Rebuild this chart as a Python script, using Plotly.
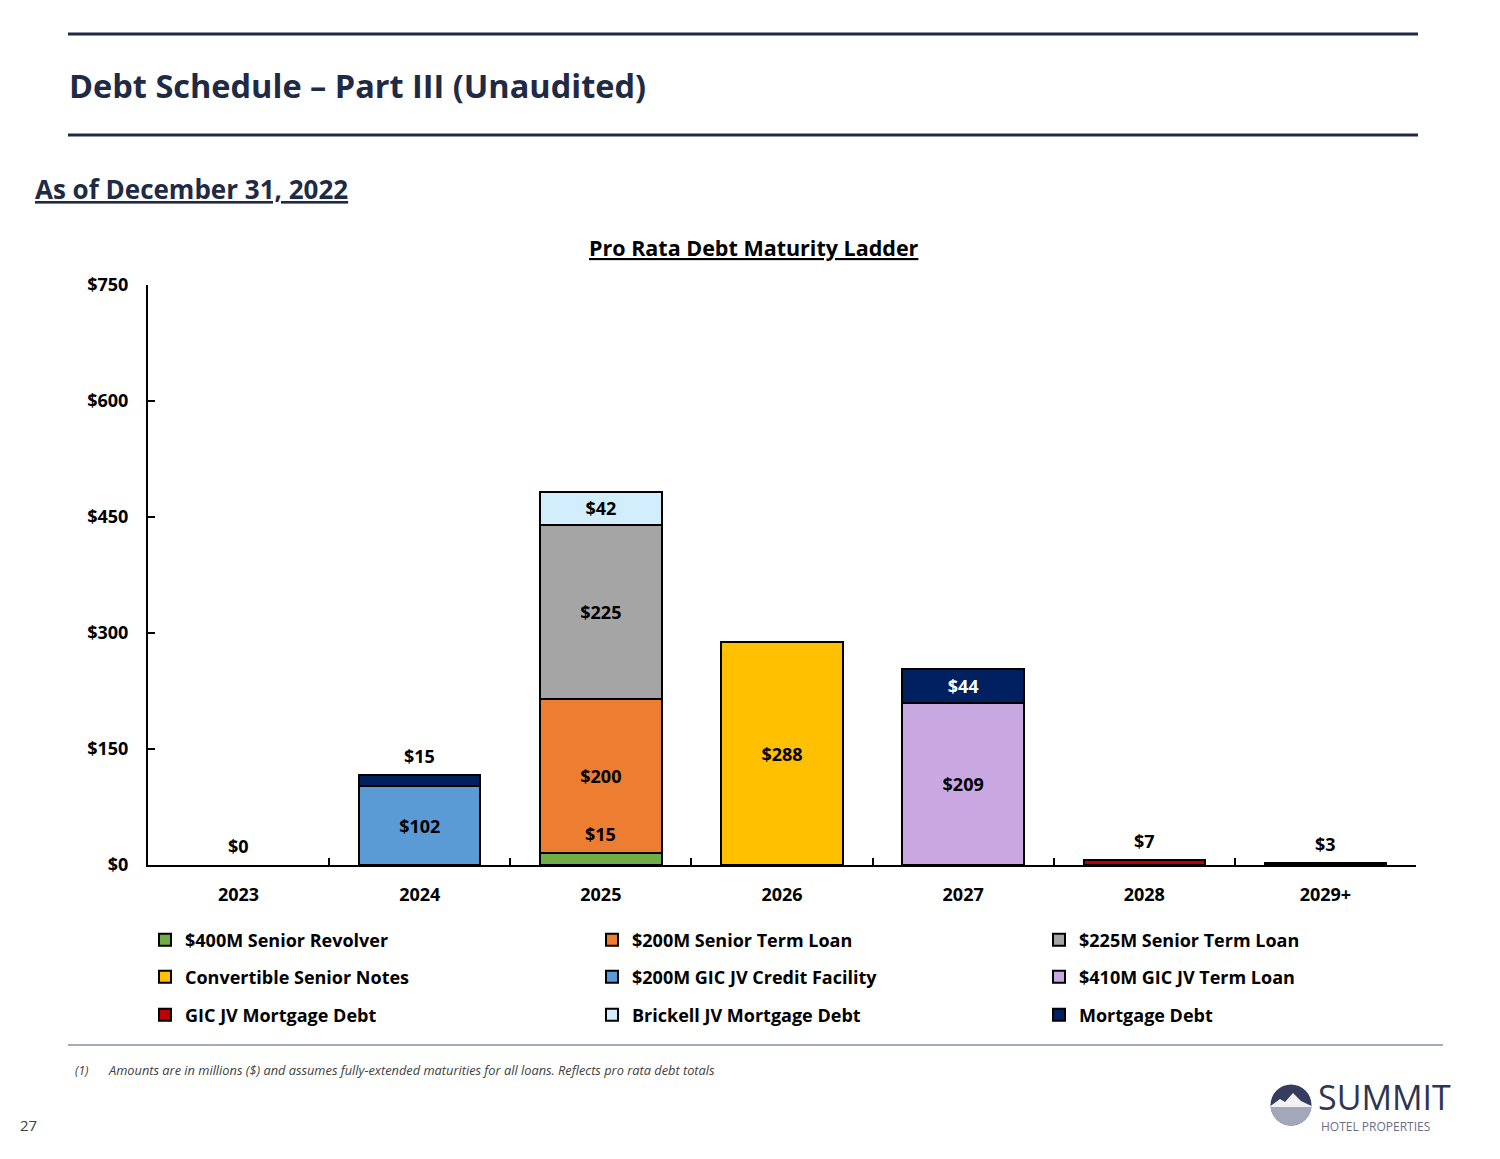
import numpy as np
import plotly.graph_objects as go

W, H = 1500, 1159
FONT = "Open Sans"

# ---------------- data ----------------
categories = ["2023", "2024", "2025", "2026", "2027", "2028", "2029+"]

series_names = [
    "$400M Senior Revolver", "$200M Senior Term Loan", "$225M Senior Term Loan",
    "Convertible Senior Notes", "$200M GIC JV Credit Facility", "$410M GIC JV Term Loan",
    "GIC JV Mortgage Debt", "Brickell JV Mortgage Debt", "Mortgage Debt",
]
revolver_400m      = [None, None, 15,   None, None, None, None]
term_loan_200m     = [None, None, 200,  None, None, None, None]
term_loan_225m     = [None, None, 225,  None, None, None, None]
convertible_notes  = [None, None, None, 288,  None, None, None]
gic_credit_200m    = [None, 102,  None, None, None, None, None]
gic_term_410m      = [None, None, None, None, 209,  None, None]
gic_mortgage       = [None, None, None, None, None, 7,    None]
brickell_mortgage  = [None, None, 42,   None, None, None, None]
mortgage_debt      = [None, 15,   None, None, 44,   None, 3]

series_values = [revolver_400m, term_loan_200m, term_loan_225m, convertible_notes,
                 gic_credit_200m, gic_term_410m, gic_mortgage, brickell_mortgage, mortgage_debt]
series_colors = ["#70AD47", "#ED7D31", "#A5A5A5", "#FFC000", "#5B9BD5",
                 "#C9A8E2", "#C00000", "#D2EDFC", "#002060"]
label_colors = ["black"] * 8 + ["white"]

y_ticks = [0, 150, 300, 450, 600, 750]
y_tick_labels = ["$0", "$150", "$300", "$450", "$600", "$750"]

# legend grid (3 columns x 3 rows), pixel positions of each entry's text start / row centre
legend_cols_px = [183, 630, 1077]
legend_rows_px = [940, 977, 1015]

# ---------------- helpers ----------------
def px(x):
    return x / W

def py(y):
    return 1 - y / H

fig = go.Figure()

legend_layouts = {}
bases = [0.0] * len(categories)
small_labels = []
for k, (name, vals, col, lcol) in enumerate(zip(series_names, series_values,
                                                series_colors, label_colors)):
    texts, positions = [], []
    for i, v in enumerate(vals):
        if v is None:
            texts.append("")
            positions.append("none")
            continue
        if v >= 20:
            texts.append(f"${v:,.0f}")
            positions.append("inside")
        else:
            texts.append("")
            positions.append("none")
            small_labels.append((i, bases[i] + v, f"${v:,.0f}"))
        bases[i] += v
    leg_id = "legend" if k == 0 else f"legend{k + 1}"
    row, colm = divmod(k, 3)
    legend_layouts[leg_id] = dict(
        x=px(legend_cols_px[colm] - 38), y=py(legend_rows_px[row]),
        xanchor="left", yanchor="middle", orientation="v",
        font=dict(family=FONT, size=18, color="black", weight="bold"),
        bgcolor="rgba(0,0,0,0)", borderwidth=0, itemclick=False, itemdoubleclick=False,
    )
    fig.add_trace(go.Bar(
        x=categories, y=vals, name=name, legend=leg_id,
        marker=dict(color=col, line=dict(color="black", width=2)),
        text=texts, textposition=positions, insidetextanchor="middle",
        textangle=0, constraintext="none",
        textfont=dict(family=FONT, size=18, color=lcol, weight="bold"),
        hoverinfo="skip",
    ))

# $0 label for empty years
for i, c in enumerate(categories):
    if bases[i] == 0:
        small_labels.append((i, 0, "$0"))

annotations = []
for i, yv, t in small_labels:
    annotations.append(dict(x=i, y=yv, xref="x", yref="y", text=t, showarrow=False,
                            yanchor="middle", yshift=19,
                            font=dict(family=FONT, size=18, color="black", weight="bold")))

# page texts
annotations += [
    dict(x=px(67), y=py(85), xref="paper", yref="paper", xanchor="left", yanchor="middle",
         text="Debt Schedule – Part III (Unaudited)", showarrow=False,
         font=dict(family=FONT, size=32.5, color="#1F2A44", weight="bold")),
    dict(x=px(33), y=py(189), xref="paper", yref="paper", xanchor="left", yanchor="middle",
         text="<u>As of December 31, 2022</u>", showarrow=False,
         font=dict(family=FONT, size=26, color="#1F2A44", weight="bold")),
    dict(x=px(754), y=py(247), xref="paper", yref="paper", xanchor="center", yanchor="middle",
         text="<u>Pro Rata Debt Maturity Ladder</u>", showarrow=False,
         font=dict(family=FONT, size=21.5, color="black", weight="bold")),
    dict(x=px(73), y=py(1070), xref="paper", yref="paper", xanchor="left", yanchor="middle",
         text="<i>(1)</i>", showarrow=False,
         font=dict(family=FONT, size=12, color="#404040")),
    dict(x=px(106), y=py(1070), xref="paper", yref="paper", xanchor="left", yanchor="middle",
         text="<i>Amounts are in millions ($) and assumes fully-extended maturities for all loans. Reflects pro rata debt totals</i>",
         showarrow=False, font=dict(family=FONT, size=12.8, color="#404040")),
    dict(x=px(28), y=py(1125), xref="paper", yref="paper", xanchor="center", yanchor="middle",
         text="27", showarrow=False, font=dict(family=FONT, size=15, color="#404040")),
    dict(x=px(1316), y=py(1097), xref="paper", yref="paper", xanchor="left", yanchor="middle",
         text="SUMMIT", showarrow=False,
         font=dict(family=FONT, size=34, color="#2F3552", weight=400)),
    dict(x=px(1319), y=py(1126), xref="paper", yref="paper", xanchor="left", yanchor="middle",
         text="HOTEL PROPERTIES", showarrow=False,
         font=dict(family=FONT, size=12, color="#6B6F85")),
]

# ---------------- shapes ----------------
shapes = [
    dict(type="line", xref="paper", yref="paper", x0=px(68), x1=px(1418), y0=py(34), y1=py(34),
         line=dict(color="#1F2A44", width=3)),
    dict(type="line", xref="paper", yref="paper", x0=px(68), x1=px(1418), y0=py(135), y1=py(135),
         line=dict(color="#1F2A44", width=3)),
    dict(type="line", xref="paper", yref="paper", x0=px(68), x1=px(1443), y0=py(1045), y1=py(1045),
         line=dict(color="#A7AABF", width=2)),
]

# logo mark
cx, cy, r = 1291, 1105, 20.5
def to_path(points):
    return "M " + " L ".join(f"{px(x):.5f},{py(y):.5f}" for x, y in points) + " Z"

shapes.append(dict(type="circle", xref="paper", yref="paper",
                   x0=px(cx - r), x1=px(cx + r), y0=py(cy + r), y1=py(cy - r),
                   fillcolor="#363C5E", line=dict(width=0)))
mountain = [(cx - r, cy + 1), (cx - 11, cy - 6), (cx - 6, cy - 3), (cx + 2, cy - 12),
            (cx + 10, cy - 4), (cx + r, cy + 1), (cx + r, cy + 4), (cx - r, cy + 4)]
shapes.append(dict(type="path", xref="paper", yref="paper", path=to_path(mountain),
                   fillcolor="#F2F2F5", line=dict(width=0)))
arc = [(cx + r * np.cos(a), max(cy + r * np.sin(a), cy + 2))
       for a in np.linspace(np.deg2rad(-5), np.deg2rad(185), 40)]
shapes.append(dict(type="path", xref="paper", yref="paper", path=to_path(arc),
                   fillcolor="#A3A7BA", line=dict(width=0)))

fig.update_layout(
    width=W, height=H,
    margin=dict(l=0, r=0, t=0, b=0, autoexpand=False),
    paper_bgcolor="white", plot_bgcolor="white",
    barmode="stack", bargap=0.33,
    showlegend=True,
    xaxis=dict(type="category", range=[-0.5, len(categories) - 0.5], automargin=False,
               domain=[px(148), px(1416)], showline=True, linecolor="black",
               linewidth=2, ticks="inside", tickson="boundaries", ticklen=7, tickwidth=2,
               tickcolor="black", ticklabelstandoff=12, showgrid=False, zeroline=False,
               tickfont=dict(family=FONT, size=18, color="black", weight="bold")),
    yaxis=dict(domain=[py(865), py(285)], range=[0, 750], tickvals=y_ticks, ticktext=y_tick_labels,
               automargin=False,
               showline=True, linecolor="black", linewidth=2, ticks="inside", ticklen=7,
               tickwidth=2, tickcolor="black", ticklabelstandoff=14, showgrid=False, zeroline=False,
               tickfont=dict(family=FONT, size=18, color="black", weight="bold")),
    annotations=annotations,
    shapes=shapes,
    **legend_layouts,
)

fig.write_html("out.html", config={"displayModeBar": False},
               post_script="document.body.style.margin='0px';document.body.style.overflow='hidden';")
